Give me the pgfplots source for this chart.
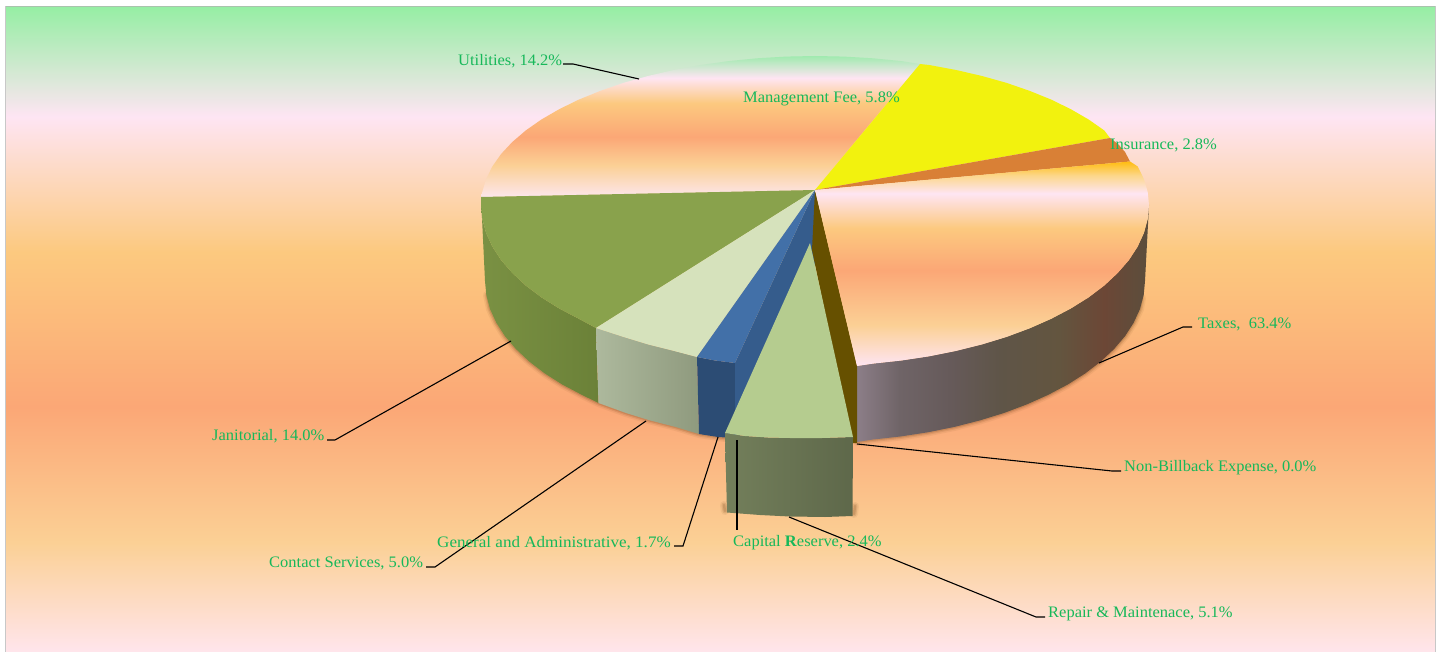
\documentclass[border=0pt]{standalone}
\usepackage{pgfplots}
\pgfplotsset{compat=1.18}
\usepackage{fontspec}
\setmainfont[FakeStretch=1.03]{Liberation Serif}

\definecolor{lblgreen}{HTML}{17B85A}
\definecolor{bgGreen}{HTML}{96EEA4}
\definecolor{bgPink}{HTML}{FEE5F3}
\definecolor{bgOrange}{HTML}{FCC97F}
\definecolor{bgSalmon}{HTML}{FBA776}
\definecolor{bgPeach}{HTML}{FBD095}
\definecolor{bgEnd}{HTML}{FFE5EC}

% Six-stop wash behind the whole chart
\pgfdeclareverticalshading{panelwash}{100bp}{
  color(0bp)=(bgEnd); color(25bp)=(bgEnd); color(33.5bp)=(bgPeach);
  color(44bp)=(bgSalmon); color(56bp)=(bgOrange); color(66.5bp)=(bgPink);
  color(75bp)=(bgGreen); color(100bp)=(bgGreen)}
% Utilities wedge
\definecolor{utilGreen}{HTML}{A0EAAF}
\definecolor{utilFoot}{HTML}{FCE6EC}
\pgfdeclareverticalshading{utilwash}{100bp}{
  color(0bp)=(utilFoot); color(25bp)=(utilFoot); color(36.3bp)=(bgPeach);
  color(46.3bp)=(bgSalmon); color(58.3bp)=(bgOrange); color(67.2bp)=(bgPink);
  color(75bp)=(utilGreen); color(100bp)=(utilGreen)}
% Taxes wedge
\definecolor{taxTop}{HTML}{FFBC10}
\definecolor{taxAmber}{HTML}{FCD78A}
\pgfdeclareverticalshading{taxwash}{100bp}{
  color(0bp)=(bgPink); color(25bp)=(bgPink); color(35bp)=(bgPeach);
  color(48.4bp)=(bgSalmon); color(58.7bp)=(bgOrange); color(67.2bp)=(bgPink);
  color(71.6bp)=(taxAmber); color(75bp)=(taxTop); color(100bp)=(taxTop)}
% Rim of the Taxes wedge
\definecolor{rimA}{HTML}{8C7E88}
\definecolor{rimB}{HTML}{6F6467}
\definecolor{rimC}{HTML}{665A5A}
\definecolor{rimD}{HTML}{5F5548}
\definecolor{rimE}{HTML}{63553F}
\definecolor{rimF}{HTML}{6C4736}
\definecolor{rimG}{HTML}{5B4E3C}
\pgfdeclarehorizontalshading{taxrim}{100bp}{
  color(0bp)=(rimA); color(25bp)=(rimA); color(32.3bp)=(rimB);
  color(40.9bp)=(rimC); color(49.4bp)=(rimD); color(59.6bp)=(rimE);
  color(67.3bp)=(rimF); color(75bp)=(rimG); color(100bp)=(rimG)}

% Rim colours of the other wedges
\definecolor{janL}{HTML}{7A9143}
\definecolor{janR}{HTML}{6B8138}
\definecolor{conL}{HTML}{ADB99D}
\definecolor{conR}{HTML}{8F9A7E}
\definecolor{repL}{HTML}{737F5B}
\definecolor{repR}{HTML}{5E684A}
% Top faces
\definecolor{janTop}{HTML}{89A24C}
\definecolor{conTop}{HTML}{D6E2BC}
\definecolor{gaTop}{HTML}{4270A8}
\definecolor{gaWall}{HTML}{355C8C}
\definecolor{gaRim}{HTML}{2C4C74}
\definecolor{repTop}{HTML}{B5CC8F}
\definecolor{mgmtTop}{HTML}{F2F20E}
\definecolor{insTop}{HTML}{D98036}
\definecolor{nonWall}{HTML}{665000}
\definecolor{haloBrown}{HTML}{7A4A20}

\newcommand\face[2]{\addplot[draw=none,fill=#1,forget plot] coordinates {#2};}
\newcommand\shaded[2]{\addplot[draw=none,#1,forget plot] coordinates {#2};}
\newcommand\halo[1]{%
  \addplot[draw=haloBrown,opacity=.08,line width=8pt,line cap=round,forget plot] coordinates {#1};
  \addplot[draw=haloBrown,opacity=.14,line width=5pt,line cap=round,forget plot] coordinates {#1};
  \addplot[draw=haloBrown,opacity=.20,line width=2.5pt,line cap=round,forget plot] coordinates {#1};}
\newcommand\leader[1]{\addplot[draw=black,line width=1.1pt,forget plot] coordinates {#1};}
% label: x, baseline y, horizontal fit, text
\newcommand\lab[4]{\node[anchor=base west,inner sep=0pt,text=lblgreen,font=\fontsize{16}{18}\selectfont] at (axis cs:#1,#2) {\scalebox{#3}[1]{#4}};}

\begin{document}
\begin{tikzpicture}
\begin{axis}[
  width=1442pt, height=652pt, scale only axis,
  xmin=0, xmax=1442, ymin=0, ymax=652, y dir=reverse,
  hide axis, clip=true, no markers]

% page and panel
\face{white}{(0,0)(1442,0)(1442,652)(0,652)}
\shaded{shade,shading=panelwash}{(6,7)(1435,7)(1435,652)(6,652)}
\addplot[draw=black!30,opacity=.7,line width=1pt,forget plot] coordinates {(5.5,652)(5.5,6.5)(1435.5,6.5)(1435.5,652)};

% soft shadow under the rim
\halo{(487,295)(490,309)(496.3,322.7)(504.9,336.1)(515.9,349)(529.2,361.5)(544.7,373.4)(562.2,384.5)(581.7,394.8)(598.5,403)(625.7,412.9)(650,420.4)(675.5,426.9)(699,434)(725,438)}
\halo{(857,442)(872.3,439.6)(900.4,436.5)(927.9,432.3)(954.5,426.9)(980,420.4)(1004.3,412.9)(1027.1,404.3)(1048.3,394.8)(1067.8,384.5)(1085.3,373.4)(1100.8,361.5)(1114.1,349)(1125.1,336.1)(1133.7,322.7)(1140,309)(1142,298)}

% rims
\shaded{left color=janL,right color=janR}{(481,197)(481,205)(482.3,219)(486.1,233)(492.4,246.7)(501.1,260.1)(512.3,273)(525.7,285.5)(541.4,297.4)(559.2,308.5)(578.8,318.8)(596,328)(598.5,403)(581.7,394.8)(562.2,384.5)(544.7,373.4)(529.2,361.5)(515.9,349)(504.9,336.1)(496.3,322.7)(490,309)(486.3,295)(485,281)}
\shaded{left color=conL,right color=conR}{(596,328)(623.4,336.9)(648,344.4)(673.9,350.9)(697,357)(699,434)(675.5,426.9)(650,420.4)(625.7,412.9)(598.5,403)}
\face{gaRim}{(697,357)(715,360.5)(735,363)(735,438)(718,437)(699,434)}
\shaded{shade,shading=taxrim}{(1149,205)(1147.7,219)(1143.9,233)(1137.6,246.7)(1128.9,260.1)(1117.7,273)(1104.3,285.5)(1088.6,297.4)(1070.8,308.5)(1051.2,318.8)(1029.7,328.3)(1006.6,336.9)(982,344.4)(956.1,350.9)(929.2,356.3)(901.4,360.5)(873,363.6)(857,366)(857,442)(872.3,439.6)(900.4,436.5)(927.9,432.3)(954.5,426.9)(980,420.4)(1004.3,412.9)(1027.1,404.3)(1048.3,394.8)(1067.8,384.5)(1085.3,373.4)(1100.8,361.5)(1114.1,349)(1125.1,336.1)(1133.7,322.7)(1140,309)(1143.7,295)(1145,281)}

% radial walls seen where the Repair wedge has been pulled out
\face{gaWall}{(815,190)(735,363)(735,438)(815,265)}
\face{nonWall}{(815,190)(857,366)(857,443)(852,443)(812,250)}

% top faces
\shaded{shade,shading=utilwash}{(815,190)(481,197)(482.3,192)(486.1,179.1)(492.4,166.4)(501.1,154)(512.3,142)(525.7,130.5)(541.4,119.5)(559.2,109.2)(578.8,99.6)(600.3,90.9)(623.4,82.9)(648,76)(673.9,70)(700.8,65)(728.6,61.1)(757,58.3)(785.9,56.6)(815,56)(844.1,56.6)(873,58.3)(901.4,61.1)(920,64)}
\face{mgmtTop}{(815,190)(920,64)(929.2,65)(956.1,70)(982,76)(1006.6,82.9)(1029.7,90.9)(1051.2,99.6)(1070.8,109.2)(1088.6,119.5)(1104.3,130.5)(1110,138)}
\face{insTop}{(815,190)(1110,138)(1118,144)(1125,152)(1130,161.5)}
\shaded{shade,shading=taxwash}{(815,190)(1130,161.5)(1137.6,166.4)(1143.9,179.1)(1147.7,192)(1149,205)(1147.7,219)(1143.9,233)(1137.6,246.7)(1128.9,260.1)(1117.7,273)(1104.3,285.5)(1088.6,297.4)(1070.8,308.5)(1051.2,318.8)(1029.7,328.3)(1006.6,336.9)(982,344.4)(956.1,350.9)(929.2,356.3)(901.4,360.5)(873,363.6)(857,366)}
\face{janTop}{(815,190)(481,197)(481,205)(482.3,219)(486.1,233)(492.4,246.7)(501.1,260.1)(512.3,273)(525.7,285.5)(541.4,297.4)(559.2,308.5)(578.8,318.8)(596,328)}
\face{conTop}{(815,190)(596,328)(623.4,336.9)(648,344.4)(673.9,350.9)(697,357)}
\face{gaTop}{(815,190)(697,357)(715,360.5)(735,363)}

% Repair & Maintenance wedge, pulled out towards the viewer
\halo{(724,505)(725,511)}
\halo{(855,506)(854,514)}
\shaded{left color=repL,right color=repR}{(725,433)(745,436)(768,437.5)(790,438)(822,438)(853,437)(852.5,516)(825,517)(790,516.5)(760,515)(727,512.5)}
\face{repTop}{(810,243)(725,433)(745,436)(768,437.5)(790,438)(822,438)(853,437)}

% leader lines
\leader{(563,64)(573,64)(639,79)}
\leader{(1099,363)(1183,327)(1192,327)}
\leader{(857,444)(1112,471)(1121,471)}
\leader{(327,440)(335,440)(511,341)}
\leader{(426,567)(435,567)(646,421)}
\leader{(674,546)(683,546)(718,437)}
\addplot[draw=black,line width=1.6pt,forget plot] coordinates {(737,440)(737,530)};
\leader{(789,517)(1036,617)(1045,617)}

% labels
\lab{458}{66}{1}{Utilities, 14.2\%}
\lab{743}{103}{1}{Management Fee, 5.8\%}
\lab{1110}{150}{1}{Insurance, 2.8\%}
\lab{1198}{328}{1}{Taxes,\ \ 63.4\%}
\lab{1124}{471}{1}{Non-Billback Expense, 0.0\%}
\lab{212}{440}{1}{Janitorial, 14.0\%}
\lab{269}{567}{1}{Contact Services, 5.0\%}
\lab{437}{547}{1.035}{General and Administrative, 1.7\%}
\lab{733}{546}{1}{Capital \textbf{R}eserve, 2.4\%}
\lab{1048}{617}{1}{Repair \& Maintenace, 5.1\%}
\end{axis}
\end{tikzpicture}
\end{document}
